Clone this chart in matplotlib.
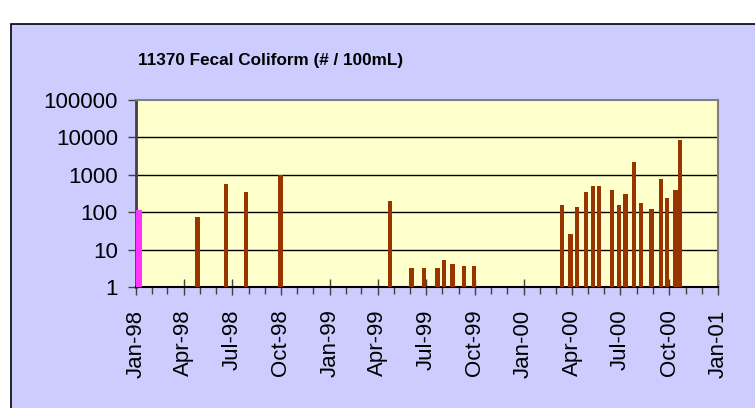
import matplotlib
matplotlib.use("Agg")
import matplotlib.pyplot as plt
import matplotlib.dates as mdates
from matplotlib.patches import Rectangle
from matplotlib.ticker import FixedLocator, FixedFormatter, NullFormatter
import numpy as np
import datetime as dt

# ---- data ----
first_date = ["1998-01-07"]
first_value = [115]

sample_dates = [
    "1998-04-27", "1998-06-19", "1998-07-27", "1998-09-30",
    "1999-04-25", "1999-06-04", "1999-06-28", "1999-07-23", "1999-08-04",
    "1999-08-20", "1999-09-10", "1999-09-30",
    "2000-03-13", "2000-03-29", "2000-04-11", "2000-04-27", "2000-05-10",
    "2000-05-22", "2000-06-16", "2000-06-28", "2000-07-11", "2000-07-27",
    "2000-08-09", "2000-08-29", "2000-09-15", "2000-09-27", "2000-10-13",
    "2000-10-21",
]
sample_values = [
    74, 569, 341, 970,
    204, 3.3, 3.3, 3.3, 5.4,
    4.3, 3.7, 3.7,
    157, 26, 141, 341, 503,
    503, 393, 157, 302, 2150,
    181, 122, 759, 236, 393,
    8470,
]
y_ticks = [1, 10, 100, 1000, 10000, 100000]
y_labels = ["1", "10", "100", "1000", "10000", "100000"]
title = "11370 Fecal Coliform (# / 100mL)"

plt.rcParams['font.family'] = ['Liberation Sans', 'DejaVu Sans']

fig = plt.figure(figsize=(7.55, 4.08), dpi=100, facecolor='white')
W, H = 755, 408
# outer chart box
box = Rectangle((11 / W, -0.02), 1.0, (408 - 24) / H + 0.02,
                transform=fig.transFigure, facecolor='#CCCCFF',
                edgecolor='black', linewidth=1.2, zorder=-10)
fig.patches.append(box)

ax = fig.add_axes([136 / W, 1 - 287.3 / H, (718 - 136) / W, (287.3 - 100) / H])
ax.set_zorder(1)
ax.set_facecolor('#FFFFCC')
ax.set_yscale('log')
ax.set_ylim(1, 100000)

d0 = mdates.date2num(dt.datetime(1998, 1, 1))
d1 = mdates.date2num(dt.datetime(2001, 1, 1))
ax.set_xlim(d0, d1)

fx = mdates.datestr2num(first_date)
sx = mdates.datestr2num(sample_dates)
ax.bar(fx, np.array(first_value) - 1, width=12, color='#FF33FF', bottom=1,
       zorder=3, linewidth=0)
ax.bar(sx, np.array(sample_values) - 1, width=8, bottom=1, color='#993300',
       zorder=3, linewidth=0)

# gridlines
for v in y_ticks[1:-1]:
    ax.axhline(v, color='black', linewidth=1, zorder=2)

ax.yaxis.set_major_locator(FixedLocator(y_ticks))
ax.yaxis.set_major_formatter(FixedFormatter(y_labels))
ax.yaxis.set_minor_locator(FixedLocator([]))
ax.tick_params(axis='y', which='major', direction='out', length=6, width=1,
               labelsize=16, pad=7, color='#404040')

ax.xaxis.set_major_locator(mdates.MonthLocator(bymonth=[1, 4, 7, 10]))
ax.xaxis.set_major_formatter(mdates.DateFormatter('%b-%y'))
ax.xaxis.set_minor_locator(mdates.MonthLocator())
ax.xaxis.set_minor_formatter(NullFormatter())
ax.tick_params(axis='x', which='major', direction='inout', length=12, width=1,
               labelsize=16, pad=10, labelrotation=90, color='#404040')
ax.tick_params(axis='x', which='minor', direction='out', length=5, width=1,
               color='#404040')
for lab in ax.get_xticklabels():
    lab.set_va('top')
    lab.set_ha('center')

ax.spines['left'].set_color('#404040')
ax.spines['left'].set_linewidth(2)
ax.spines['bottom'].set_color('black')
ax.spines['bottom'].set_linewidth(1.5)
ax.spines['top'].set_color('#808080')
ax.spines['top'].set_linewidth(1.5)
ax.spines['right'].set_color('#808080')
ax.spines['right'].set_linewidth(1.5)

fig.text(271 / W, 1 - 60 / H, title, ha='center', va='center',
         fontsize=12.3, fontweight='bold')

fig.savefig('out.png', dpi=100, facecolor='white')
